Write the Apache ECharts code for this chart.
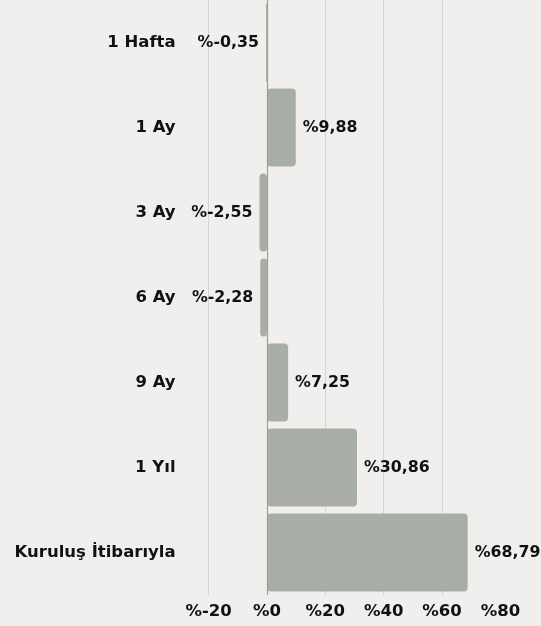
<!DOCTYPE html>
<html>
<head>
<meta charset="utf-8">
<script src="https://cdn.jsdelivr.net/npm/echarts@6/dist/echarts.min.js"></script>
<style>
html,body{margin:0;padding:0;background:#f0efed;}
#c{width:541px;height:626px;}
</style>
</head>
<body>
<div id="c"></div>
<script>
var categories = ['1 Hafta', '1 Ay', '3 Ay', '6 Ay', '9 Ay', '1 Yıl', 'Kuruluş İtibarıyla'];
var values = [-0.35, 9.88, -2.55, -2.28, 7.25, 30.86, 68.79];
var xTicks = [-20, 0, 20, 40, 60, 80];

function fmt(v) {
  return '%' + v.toFixed(2).replace('.', ',');
}

var chart = echarts.init(document.getElementById('c'), null, {renderer: 'canvas'});
var font = '"DejaVu Sans", sans-serif';
var fw = 'bold';
var fs = 16.5;
chart.setOption({
  backgroundColor: '#f0efed',
  animation: false,
  grid: {left: 208.6, right: 40.6, top: -3.5, bottom: 31, containLabel: false},
  xAxis: {
    type: 'value',
    min: xTicks[0],
    max: xTicks[xTicks.length - 1],
    interval: 20,
    axisLine: {show: false},
    axisTick: {show: false},
    axisLabel: {
      formatter: function (v) { return '%' + v; },
      color: '#111',
      fontSize: fs,
      fontWeight: fw,
      fontFamily: font,
      margin: 8
    },
    splitLine: {show: true, lineStyle: {color: ['#d3d3d3', 'rgba(0,0,0,0)', '#d3d3d3', '#d3d3d3', '#d3d3d3', 'rgba(0,0,0,0)'], width: 1}}
  },
  yAxis: {
    type: 'category',
    data: categories,
    inverse: true,
    axisLine: {show: false},
    axisTick: {show: false},
    axisLabel: {
      color: '#111',
      fontSize: fs,
      fontWeight: fw,
      fontFamily: font,
      margin: 33
    }
  },
  series: [{
    type: 'bar',
    data: values.map(function (v) {
      return {
        value: v,
        label: {position: v < 0 ? 'left' : 'right'}
      };
    }),
    barCategoryGap: '8%',
    itemStyle: {color: '#a8ada6', borderRadius: 4},
    label: {
      show: true,
      formatter: function (p) { return fmt(p.value); },
      color: '#111',
      fontSize: 15.8,
      fontWeight: fw,
      fontFamily: font,
      distance: 7
    },
    markLine: {
      silent: true,
      symbol: 'none',
      label: {show: false},
      lineStyle: {color: '#9e9e9e', width: 1.2, type: 'solid'},
      data: [{xAxis: 0}]
    }
  }]
});
</script>
</body>
</html>
